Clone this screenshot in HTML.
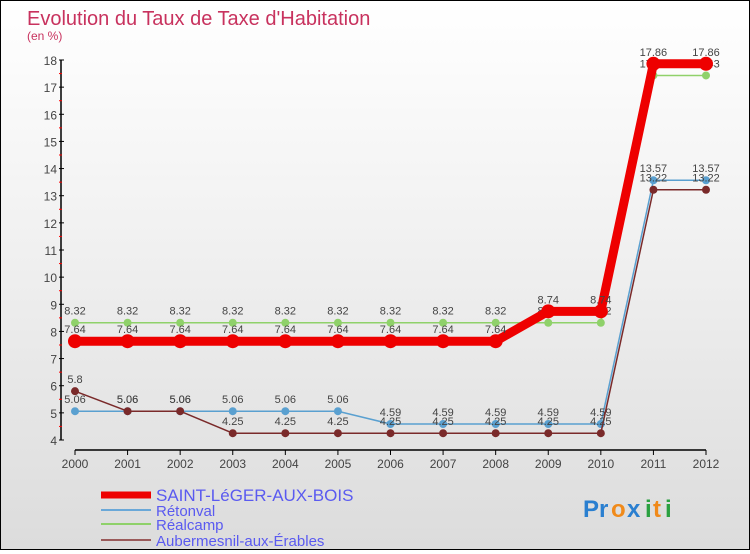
<!DOCTYPE html>
<html><head><meta charset="utf-8">
<style>
html,body{margin:0;padding:0;}
body{width:750px;height:550px;overflow:hidden;font-family:"Liberation Sans","DejaVu Sans",sans-serif;}
#wrap{position:relative;width:748px;height:548px;border:1px solid #000;background:linear-gradient(#ffffff,#f2f2f2 40%,#dcdcdc);}
</style></head>
<body>
<div id="wrap">
<svg id="chart" width="748" height="548" xmlns="http://www.w3.org/2000/svg">
<text x="26" y="24" font-size="20" fill="#c8325e">Evolution du Taux de Taxe d'Habitation</text>
<text x="26" y="39" font-size="12" fill="#c8325e">(en %)</text>
<g id="axes"></g>
<g id="series"></g>
<g id="legend"></g>
<g font-size="24" font-weight="bold">
<text x="582" y="516" fill="#2a7fd0">P</text><text x="598" y="516" fill="#2a7fd0">r</text>
<text x="610" y="516" fill="#f08a1a">o</text><text x="626" y="516" fill="#2a7fd0">x</text>
<text x="644" y="516" fill="#2aa040">i</text><text x="652" y="516" fill="#f08a1a">t</text>
<text x="664" y="516" fill="#2aa040">i</text>
</g>
</svg>
</div>
<script>
const years = [2000,2001,2002,2003,2004,2005,2006,2007,2008,2009,2010,2011,2012];
const yTicks = [4,5,6,7,8,9,10,11,12,13,14,15,16,17,18];
const saintValues = [7.64,7.64,7.64,7.64,7.64,7.64,7.64,7.64,7.64,8.74,8.74,17.86,17.86];
const retonvalValues = [5.06,5.06,5.06,5.06,5.06,5.06,4.59,4.59,4.59,4.59,4.59,13.57,13.57];
const realcampValues = [8.32,8.32,8.32,8.32,8.32,8.32,8.32,8.32,8.32,8.32,8.32,17.43,17.43];
const aubermesnilValues = [5.8,5.06,5.06,4.25,4.25,4.25,4.25,4.25,4.25,4.25,4.25,13.22,13.22];
const seriesNames = ["SAINT-LéGER-AUX-BOIS","Rétonval","Réalcamp","Aubermesnil-aux-Érables"];

const NS="http://www.w3.org/2000/svg";
const x0=74, x1=705, yMin=4, yMax=18, py0=439, py1=59;
function xs(i){return x0+(x1-x0)*i/(years.length-1);}
function ys(v){return py0-(v-yMin)*(py0-py1)/(yMax-yMin);}
function mk(tag,attrs,parent){const e=document.createElementNS(NS,tag);for(const k in attrs)e.setAttribute(k,attrs[k]);parent.appendChild(e);return e;}

const axes=document.getElementById('axes');
let l=mk('line',{x1:60,y1:ys(yMax),x2:60,y2:ys(yMin),stroke:'#000','stroke-width':1.5},axes);


yTicks.forEach((t,i)=>{
  const y=ys(t);
  mk('line',{x1:58,y1:y,x2:63,y2:y,stroke:'#000'},axes);
  if(i<yTicks.length-1) mk('line',{x1:58,y1:ys(t+0.5),x2:61,y2:ys(t+0.5),stroke:'#f00'},axes);
  const tx=mk('text',{x:56,y:y+5,'font-size':12,fill:'#444','text-anchor':'end'},axes);
  tx.textContent=t;
  
  
});
l=mk('line',{x1:x0,y1:449,x2:x1,y2:449,stroke:'#000','stroke-width':1.5},axes);


years.forEach((yr,i)=>{
  const x=xs(i);
  mk('line',{x1:x,y1:449,x2:x,y2:454,stroke:'#000'},axes);
  const tx=mk('text',{x:x,y:467,'font-size':12,fill:'#444','text-anchor':'middle'},axes);
  tx.textContent=yr;
  
  
});

const sg=document.getElementById('series');
function drawSeries(vals,color,width,r,name){
  const g=mk('g',{},sg);
  
  
  mk('polyline',{points:vals.map((v,i)=>xs(i)+','+ys(v)).join(' '),fill:'none',stroke:color,'stroke-width':width,'stroke-linejoin':'round'},g);
  vals.forEach((v,i)=>{
    const c=mk('circle',{cx:xs(i),cy:ys(v),r:r,fill:color},g);
    
    
  });
  vals.forEach((v,i)=>{
    const t=mk('text',{x:xs(i),y:ys(v)-8,'font-size':11,fill:'#444','text-anchor':'middle'},g);
    t.textContent=v;
    
    
  });
}
drawSeries(realcampValues,'#8fd16a',1.5,4,'realcamp-series');
drawSeries(retonvalValues,'#5aa0d0',1.5,4,'retonval-series');
drawSeries(aubermesnilValues,'#7a2a2a',1.5,4,'aubermesnil-series');
drawSeries(saintValues,'#ee0000',9,7,'saint-leger-series');

const lg=document.getElementById('legend');
const lcolors=['#ee0000','#6aa8d8','#8fd16a','#9a5a5a'];
const lwidths=[7,2,2,2];
const ly=[492,507,521,537];
const lsize=[17,15,15,15];
seriesNames.forEach((n,i)=>{
  const g=mk('g',{},lg);
  
  
  mk('line',{x1:100,y1:ly[i]+2,x2:150,y2:ly[i]+2,stroke:lcolors[i],'stroke-width':lwidths[i]},g);
  const t=mk('text',{x:155,y:ly[i]+8,'font-size':lsize[i],fill:'#5a5af0'},g);
  t.textContent=n;
});
</script>
</body></html>
